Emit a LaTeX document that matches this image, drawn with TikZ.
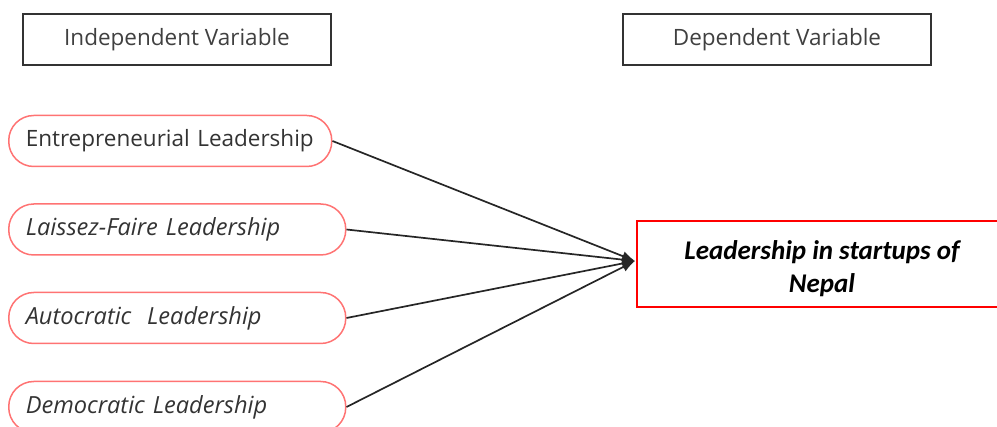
\documentclass[tikz,border=0pt]{standalone}
\usepackage{fontspec}
\setmainfont{Open Sans}
\newfontfamily\calibri{Carlito}
\usetikzlibrary{arrows.meta}

\begin{document}
\begin{tikzpicture}[x=1pt,y=-1pt,
        varbox/.style={draw=black!80,line width=1.6pt,minimum width=308pt,minimum height=51pt,text=black!75,font=\fontsize{22.5}{26}\selectfont},
        lead/.style={draw=red!55,line width=1.5pt,rounded corners=25pt,minimum height=51pt,anchor=west,inner xsep=17pt,align=left,text=black!80,font=\fontsize{22.5}{26}\selectfont},
        leadit/.style={lead,font=\itshape\fontsize{23.6}{26}\selectfont},
        link/.style={draw=black!85,line width=1.7pt,-{Latex[length=13pt,width=10pt]}}]
        \useasboundingbox (0,0) rectangle (997,427);
        \node[varbox] (indep) at (177,39.5) {Independent Variable};
        \node[varbox] (dep) at (777,39.5) {Dependent Variable};
        \node[lead,text width=289pt] (entre) at (8,141) {Entrepreneurial Leadership};
        \node[leadit,text width=303pt] (laissez) at (8,229.5) {Laissez-Faire Leadership};
        \node[leadit,text width=303pt] (auto) at (8,318) {Autocratic~~Leadership};
        \node[leadit,text width=303pt] (demo) at (8,407) {Democratic Leadership};
        \node[draw=red,line width=2.2pt,minimum width=370pt,minimum height=86pt,align=center,font=\calibri\bfseries\itshape\fontsize{27}{33}\selectfont] (startup) at (822,264) {\rule{0pt}{28pt}Leadership in startups of\\Nepal};
        \coordinate (meet) at (635,261);
        \draw[link] (entre.east) -- (meet);
        \draw[link] (laissez.east) -- (meet);
        \draw[link] (auto.east) -- (meet);
        \draw[link] (demo.east) -- (meet);
\end{tikzpicture}
\end{document}
